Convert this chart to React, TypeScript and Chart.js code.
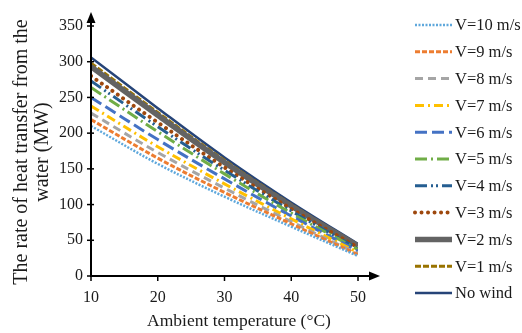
import React, { useEffect, useRef } from 'react';
import { Chart, registerables } from 'chart.js';

Chart.register(...registerables);

const temperatures = [10, 20, 30, 40, 50];
const seriesLabels = [
  'V=10 m/s', 'V=9 m/s', 'V=8 m/s', 'V=7 m/s', 'V=6 m/s',
  'V=5 m/s', 'V=4 m/s', 'V=3 m/s', 'V=2 m/s', 'V=1 m/s', 'No wind',
];
const v10 = [210, 157, 111, 69, 28];
const v9 = [219, 165, 117, 73, 30];
const v8 = [228, 173, 123, 76, 31];
const v7 = [238, 181, 129, 80, 33];
const v6 = [250, 191, 136, 84, 35];
const v5 = [264, 202, 143, 88, 37];
const v4 = [273, 209, 148, 91, 38];
const v3 = [280, 215, 152, 94, 40];
const v2 = [293, 225, 159, 98, 42];
const v1 = [298, 229, 162, 100, 43];
const noWind = [306, 235, 166, 103, 45];
const seriesValues = [v10, v9, v8, v7, v6, v5, v4, v3, v2, v1, noWind];

const xTitle = 'Ambient temperature (°C)';
const yTitle = ['The rate of heat transfer from the', 'water (MW)'];

const styles = [
  { color: '#5FA8DC', width: 2.5, dash: [2, 1.5], cap: 'butt' },
  { color: '#ED7D31', width: 3, dash: [5, 2], cap: 'butt' },
  { color: '#A5A5A5', width: 3, dash: [8, 5], cap: 'butt' },
  { color: '#FFC000', width: 3, dash: [9, 4, 2, 4], cap: 'butt' },
  { color: '#4472C4', width: 3, dash: [12, 5], cap: 'butt' },
  { color: '#70AD47', width: 3, dash: [12, 4, 2, 4], cap: 'butt' },
  { color: '#255E91', width: 3, dash: [12, 4, 2, 3, 2, 4], cap: 'butt' },
  { color: '#9E480E', width: 4, dash: [0.01, 6.5], cap: 'round' },
  { color: '#636363', width: 5.5, dash: [], cap: 'butt' },
  { color: '#997300', width: 3, dash: [6, 2], cap: 'butt' },
  { color: '#264478', width: 2.5, dash: [], cap: 'butt' },
];

const FONT = '"Liberation Serif", "Times New Roman", serif';

const decorPlugin = {
  id: 'decor',
  afterDraw(chart: any) {
    const ctx = chart.ctx as CanvasRenderingContext2D;
    const { left, right, top, bottom } = chart.chartArea;
    const xs = chart.scales.x;
    const ys = chart.scales.y;
    ctx.save();
    ctx.strokeStyle = '#000';
    ctx.fillStyle = '#000';
    ctx.setLineDash([]);
    ctx.lineWidth = 2;
    // y axis
    ctx.beginPath();
    ctx.moveTo(left, bottom + 1);
    ctx.lineTo(left, top - 6);
    ctx.stroke();
    ctx.beginPath();
    ctx.moveTo(left, top - 14);
    ctx.lineTo(left - 4.5, top - 3);
    ctx.lineTo(left + 4.5, top - 3);
    ctx.closePath();
    ctx.fill();
    // x axis
    ctx.beginPath();
    ctx.moveTo(left - 1, bottom);
    ctx.lineTo(right + 14, bottom);
    ctx.stroke();
    ctx.beginPath();
    ctx.moveTo(right + 22, bottom);
    ctx.lineTo(right + 11, bottom - 4.5);
    ctx.lineTo(right + 11, bottom + 4.5);
    ctx.closePath();
    ctx.fill();
    // ticks
    ctx.lineWidth = 1.5;
    ys.ticks.forEach((t: any) => {
      const y = ys.getPixelForValue(t.value);
      ctx.beginPath();
      ctx.moveTo(left - 4, y);
      ctx.lineTo(left + 3, y);
      ctx.stroke();
    });
    xs.ticks.forEach((t: any) => {
      const x = xs.getPixelForValue(t.value);
      ctx.beginPath();
      ctx.moveTo(x, bottom);
      ctx.lineTo(x, bottom + 5);
      ctx.stroke();
    });
    // titles
    ctx.fillStyle = '#1a1a1a';
    ctx.textAlign = 'center';
    ctx.textBaseline = 'middle';
    ctx.font = `17.5px ${FONT}`;
    ctx.fillText(xTitle, 239, 321);
    ctx.save();
    ctx.translate(22, 152);
    ctx.rotate(-Math.PI / 2);
    ctx.font = `20px ${FONT}`;
    ctx.fillText(yTitle[0], 0, 0);
    ctx.fillText(yTitle[1], 0, 21);
    ctx.restore();
    // legend
    ctx.textAlign = 'left';
    ctx.font = `16.5px ${FONT}`;
    chart.data.datasets.forEach((ds: any, i: number) => {
      const y = 25 + i * 26.8;
      const s = styles[i];
      ctx.save();
      ctx.strokeStyle = s.color;
      ctx.lineWidth = s.width;
      ctx.setLineDash(s.dash);
      ctx.lineCap = s.cap as CanvasLineCap;
      ctx.beginPath();
      ctx.moveTo(415, y);
      ctx.lineTo(452, y);
      ctx.stroke();
      ctx.restore();
      ctx.fillStyle = '#1a1a1a';
      ctx.fillText(ds.label, 455, y + 1);
    });
    ctx.restore();
  },
};

export default function App() {
  const ref = useRef<HTMLCanvasElement | null>(null);
  useEffect(() => {
    if (!ref.current) return;
    const datasets = seriesValues.map((vals, i) => ({
      label: seriesLabels[i],
      data: vals.map((v, j) => ({ x: temperatures[j], y: v })),
      borderColor: styles[i].color,
      backgroundColor: styles[i].color,
      borderWidth: styles[i].width,
      borderDash: styles[i].dash,
      borderCapStyle: styles[i].cap,
      pointRadius: 0,
      tension: 0.35,
      fill: false,
    }));
    const chart = new Chart(ref.current, {
      type: 'line',
      data: { datasets },
      options: {
        animation: false,
        responsive: false,
        devicePixelRatio: 1,
        layout: { padding: { top: 26, right: 164, left: 0, bottom: 0 } },
        plugins: { legend: { display: false }, tooltip: { enabled: false } },
        scales: {
          x: {
            type: 'linear',
            min: 10,
            max: 50,
            ticks: { stepSize: 10, color: '#1a1a1a', padding: 12, font: { family: FONT, size: 16 } },
            grid: { display: false, drawTicks: false },
            border: { display: false },
            afterFit: (s: any) => { s.height = 57; },
          },
          y: {
            min: 0,
            max: 350,
            ticks: { stepSize: 50, color: '#1a1a1a', padding: 8, font: { family: FONT, size: 16 } },
            grid: { display: false, drawTicks: false },
            border: { display: false },
            afterFit: (s: any) => { s.width = 91; },
          },
        },
      },
      plugins: [decorPlugin],
    });
    return () => chart.destroy();
  }, []);
  return (
    <div style={{ position: 'absolute', left: 0, top: 0, width: 522, height: 333, background: '#fff' }}>
      <canvas ref={ref} width={522} height={333} style={{ width: 522, height: 333, display: 'block' }} />
    </div>
  );
}
